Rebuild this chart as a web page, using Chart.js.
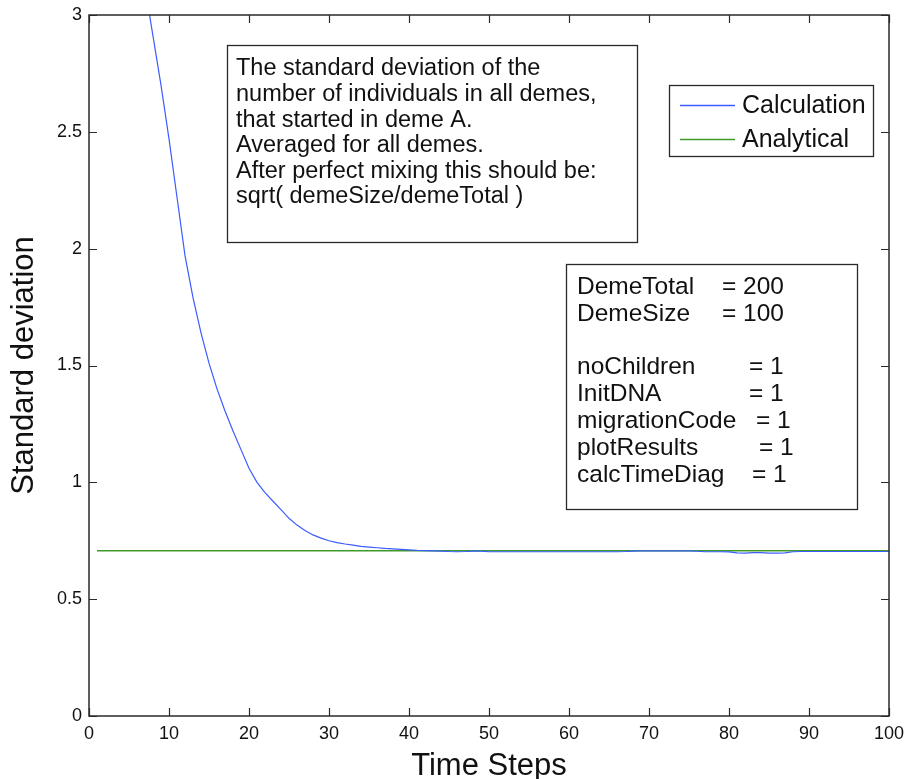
<!DOCTYPE html>
<html><head><meta charset="utf-8">
<script src="https://cdn.jsdelivr.net/npm/chart.js@4"></script>
<style>html,body{margin:0;padding:0;background:#fff}#wrap{width:904px;height:779px}</style>
</head><body><div id="wrap"><canvas id="c" width="904" height="779"></canvas></div>
<script>
const steps = [];
for (let i = 1; i <= 100; i++) steps.push(i);
const calculation = [4.6,4.2,3.9,3.67,3.4,3.2,3.12,2.91,2.70,2.47,
  2.22,1.97,1.79,1.64,1.51,1.40,1.305,1.22,1.14,1.06,
  1.0,0.956,0.919,0.883,0.846,0.817,0.794,0.775,0.761,0.750,
  0.742,0.736,0.731,0.726,0.723,0.720,0.717,0.715,0.713,0.711,
  0.709,0.708,0.707,0.706,0.704,0.703,0.704,0.706,0.706,0.703,
  0.703,0.703,0.703,0.703,0.703,0.703,0.703,0.703,0.703,0.703,
  0.703,0.703,0.703,0.703,0.703,0.703,0.704,0.706,0.707,0.707,
  0.707,0.707,0.707,0.707,0.707,0.705,0.703,0.703,0.703,0.702,
  0.698,0.697,0.699,0.699,0.697,0.697,0.698,0.703,0.704,0.704,
  0.704,0.704,0.704,0.704,0.704,0.704,0.704,0.704,0.704,0.704];
const analytical = steps.map(() => 0.7071);
const xTicks = [0,10,20,30,40,50,60,70,80,90,100];
const yTicks = [0,0.5,1,1.5,2,2.5,3];
const seriesNames = ["Calculation", "Analytical"];
const noteLines = ["The standard deviation of the","number of individuals in all demes,","that started in deme A.","Averaged for all demes.","After perfect mixing this should be:","sqrt( demeSize/demeTotal )"];
const paramNames = ["DemeTotal","DemeSize","","noChildren","InitDNA","migrationCode","plotResults","calcTimeDiag"];
const paramValues = ["= 200","= 100","","= 1","= 1","= 1","= 1","= 1"];

const FONT = "'Liberation Sans', Arial, sans-serif";
const BLUE = "#3c5cff", GREEN = "#3f9a2a";

const overlay = {
  id: 'overlay',
  afterDraw(chart) {
    const ctx = chart.ctx, a = chart.chartArea;
    const xs = chart.scales.x, ys = chart.scales.y;
    ctx.save();
    ctx.strokeStyle = '#2a2a2a'; ctx.lineWidth = 1.5;
    ctx.strokeRect(a.left, a.top, a.right - a.left, a.bottom - a.top);
    ctx.lineWidth = 1.2;
    ctx.beginPath();
    xTicks.forEach(v => { const p = Math.round(xs.getPixelForValue(v)) + 0.5;
      ctx.moveTo(p, a.bottom); ctx.lineTo(p, a.bottom - 8);
      ctx.moveTo(p, a.top); ctx.lineTo(p, a.top + 8); });
    yTicks.forEach(v => { const p = Math.round(ys.getPixelForValue(v)) + 0.5;
      ctx.moveTo(a.left, p); ctx.lineTo(a.left + 8, p);
      ctx.moveTo(a.right, p); ctx.lineTo(a.right - 8, p); });
    ctx.stroke();

    // note box
    ctx.fillStyle = '#fff'; ctx.strokeStyle = '#2a2a2a'; ctx.lineWidth = 1.3;
    ctx.fillRect(227, 45, 410, 197); ctx.strokeRect(227.5, 45.5, 410, 197);
    ctx.fillStyle = '#111'; ctx.font = '23.5px ' + FONT; ctx.textBaseline = 'middle'; ctx.textAlign = 'left';
    noteLines.forEach((t, i) => ctx.fillText(t, 236, 69 + i * 25.6));

    // params box
    ctx.fillStyle = '#fff';
    ctx.fillRect(566, 264, 291, 245); ctx.strokeRect(566.5, 264.5, 291, 245);
    ctx.fillStyle = '#111'; ctx.font = '24.5px ' + FONT;
    const valX = [722, 722, 0, 749, 749, 756, 759, 752];
    paramNames.forEach((t, i) => {
      if (!t) return;
      const y = 287 + i * 26.9;
      ctx.fillText(t, 577, y);
      ctx.fillText(paramValues[i], valX[i], y);
    });

    // legend
    ctx.fillStyle = '#fff';
    ctx.fillRect(669, 85, 204, 71); ctx.strokeRect(669.5, 85.5, 204, 71);
    ctx.font = '25px ' + FONT;
    chart.data.datasets.forEach((ds, i) => {
      const y = 105 + i * 34;
      ctx.strokeStyle = ds.borderColor; ctx.lineWidth = 1.3;
      ctx.beginPath(); ctx.moveTo(680, y + 0.5); ctx.lineTo(735, y + 0.5); ctx.stroke();
      ctx.fillStyle = '#111'; ctx.fillText(ds.label, 742, y + 1);
    });
    ctx.restore();
  }
};

new Chart(document.getElementById('c'), {
  type: 'line',
  data: {
    datasets: [
      { label: seriesNames[0], data: steps.map((s, i) => ({x: s, y: calculation[i]})), borderColor: BLUE, borderWidth: 1.2, pointRadius: 0, tension: 0 },
      { label: seriesNames[1], data: steps.map((s, i) => ({x: s, y: analytical[i]})), borderColor: GREEN, borderWidth: 1.5, pointRadius: 0, tension: 0 }
    ]
  },
  options: {
    responsive: false, animation: false, devicePixelRatio: 1,
    layout: { padding: { top: 15, right: 15, left: 0, bottom: 0 } },
    plugins: { legend: { display: false }, tooltip: { enabled: false } },
    scales: {
      x: { type: 'linear', min: 0, max: 100,
        afterBuildTicks: s => { s.ticks = xTicks.map(v => ({value: v})); },
        afterFit: s => { s.height = 63; s.paddingLeft = 0; s.paddingRight = 0; },
        grid: { display: false, drawTicks: false }, border: { display: false },
        ticks: { color: '#111', font: { family: FONT, size: 18 }, padding: 7, maxRotation: 0, callback: v => String(v) },
        title: { display: true, text: 'Time Steps', color: '#111', font: { family: FONT, size: 31 }, padding: { top: 0, bottom: -6 } } },
      y: { type: 'linear', min: 0, max: 3,
        afterBuildTicks: s => { s.ticks = yTicks.map(v => ({value: v})); },
        afterFit: s => { s.width = 89; s.paddingTop = 0; s.paddingBottom = 0; },
        grid: { display: false, drawTicks: false }, border: { display: false },
        ticks: { color: '#111', font: { family: FONT, size: 18 }, padding: 7, callback: v => String(v) },
        title: { display: true, text: 'Standard deviation', color: '#111', font: { family: FONT, size: 31 }, padding: { bottom: 0, top: 6 } } }
    }
  },
  plugins: [overlay]
});
</script></body></html>
